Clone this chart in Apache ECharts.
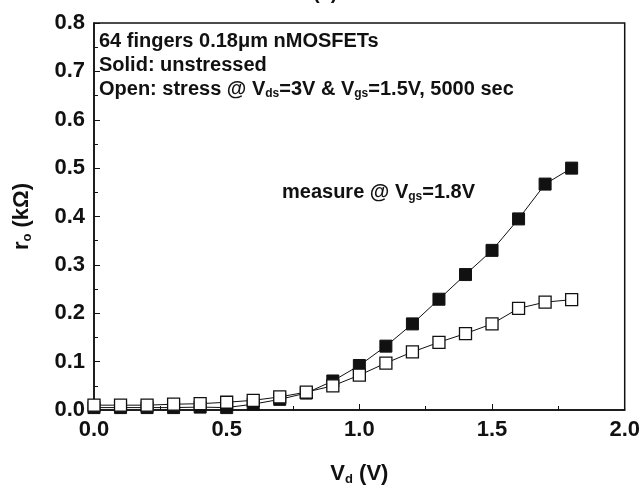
<!DOCTYPE html>
<html>
<head>
<meta charset="utf-8">
<script src="https://cdn.jsdelivr.net/npm/echarts@6/dist/echarts.min.js"></script>
<style>
  html, body { margin: 0; padding: 0; background: #fff; }
  #chart { width: 643px; height: 491px; }
</style>
</head>
<body>
<div id="chart"></div>
<script>
const vd = [0.0, 0.1, 0.2, 0.3, 0.4, 0.5, 0.6, 0.7, 0.8, 0.9, 1.0, 1.1, 1.2, 1.3, 1.4, 1.5, 1.6, 1.7, 1.8];
const unstressed = [0.005, 0.005, 0.005, 0.005, 0.006, 0.005, 0.012, 0.022, 0.035, 0.06, 0.092, 0.132, 0.178, 0.229, 0.28, 0.33, 0.395, 0.467, 0.5];
const stressed = [0.01, 0.01, 0.01, 0.012, 0.013, 0.016, 0.02, 0.027, 0.037, 0.05, 0.072, 0.097, 0.12, 0.14, 0.158, 0.178, 0.21, 0.223, 0.228];

const pairs = ys => vd.map((x, i) => [x, ys[i]]);
const font = 'Liberation Sans, Arial, sans-serif';
const ink = '#111';

// rich styles for subscripts
const nameRich = {
  v: { fontFamily: font, fontWeight: 'bold', fontSize: 22, color: ink },
  s: { fontFamily: font, fontWeight: 'bold', fontSize: 13, color: ink, verticalAlign: 'bottom', padding: [12, 0, 0, 0] }
};
const noteRich = {
  t: { fontFamily: font, fontWeight: 'bold', fontSize: 20, fill: ink },
  s: { fontFamily: font, fontWeight: 'bold', fontSize: 12, fill: ink, verticalAlign: 'bottom', padding: [10, 0, 0, 0] }
};

const chart = echarts.init(document.getElementById('chart'));
chart.setOption({
  backgroundColor: '#fff',
  animation: false,
  grid: { left: 94, right: 16, top: 23, bottom: 74, show: true, borderColor: ink, borderWidth: 1.5 },
  xAxis: {
    type: 'value', min: 0, max: 2, interval: 0.5,
    name: '{v|V}{s|d}{v| (V)}', nameLocation: 'center', nameGap: 51,
    nameTextStyle: { rich: nameRich },
    axisLine: { lineStyle: { color: ink, width: 1.5 } },
    axisTick: { inside: true, length: 6, lineStyle: { color: ink } },
    minorTick: { show: true, splitNumber: 2, length: 4, lineStyle: { color: ink } },
    splitLine: { show: false },
    axisLabel: { fontFamily: font, fontWeight: 'bold', fontSize: 22, color: ink, margin: 9,
      formatter: v => v.toFixed(1) }
  },
  yAxis: {
    type: 'value', min: 0, max: 0.8, interval: 0.1,
    name: '{v|r}{s|o}{v| (kΩ)}', nameLocation: 'center', nameGap: 60,
    nameTextStyle: { rich: nameRich },
    axisLine: { lineStyle: { color: ink, width: 1.5 } },
    axisTick: { inside: true, length: 6, lineStyle: { color: ink } },
    minorTick: { show: true, splitNumber: 2, length: 4, lineStyle: { color: ink } },
    splitLine: { show: false },
    axisLabel: { fontFamily: font, fontWeight: 'bold', fontSize: 22, color: ink, margin: 9,
      formatter: v => v.toFixed(1) }
  },
  series: [
    {
      name: 'unstressed', type: 'line', data: pairs(unstressed),
      symbol: 'rect', symbolSize: 12,
      itemStyle: { color: ink, borderColor: ink },
      lineStyle: { color: ink, width: 1 }, z: 2
    },
    {
      name: 'stressed', type: 'line', data: pairs(stressed),
      symbol: 'rect', symbolSize: 12,
      itemStyle: { color: '#fff', borderColor: ink, borderWidth: 1.3 },
      lineStyle: { color: ink, width: 1 }, z: 3
    }
  ],
  graphic: [
    { type: 'text', left: 313, top: -17, style: { text: '(a)', font: 'bold 20px ' + font, fill: ink } },
    { type: 'text', left: 99, top: 31, style: { text: '64 fingers 0.18μm nMOSFETs', font: 'bold 20px ' + font, fill: ink } },
    { type: 'text', left: 99, top: 55, style: { text: 'Solid: unstressed', font: 'bold 20px ' + font, fill: ink } },
    { type: 'text', left: 99, top: 79, style: {
      text: '{t|Open: stress @ V}{s|ds}{t|=3V & V}{s|gs}{t|=1.5V, 5000 sec}', rich: noteRich
    } },
    { type: 'text', left: 282, top: 182, style: {
      text: '{t|measure @ V}{s|gs}{t|=1.8V}', rich: noteRich
    } }
  ]
});
</script>
</body>
</html>
